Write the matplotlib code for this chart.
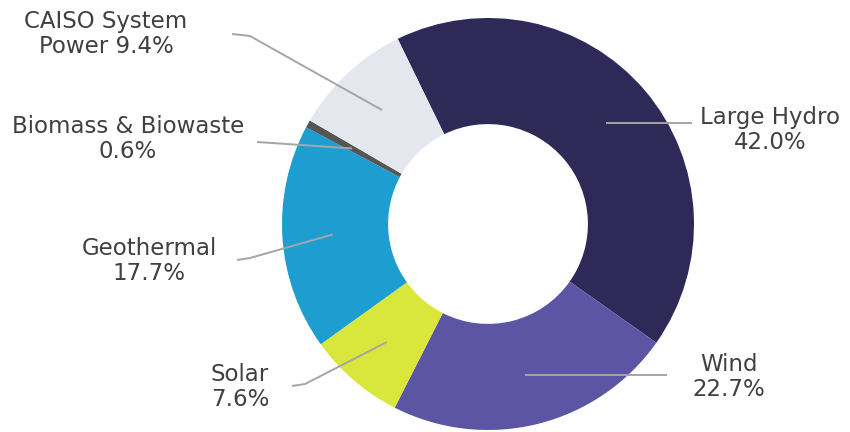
import numpy as np
import matplotlib
matplotlib.use("Agg")
import matplotlib.pyplot as plt

# energy mix (clockwise from upper-left)
labels = ["Large Hydro", "Wind", "Solar", "Geothermal", "Biomass & Biowaste", "CAISO System Power"]
shares = [42.0, 22.7, 7.6, 17.7, 0.6, 9.4]
texts = ["Large Hydro\n42.0%", "Wind\n22.7%", "Solar\n7.6%", "Geothermal\n17.7%",
         "Biomass & Biowaste\n0.6%", "CAISO System\nPower 9.4%"]
colors = ["#2f2957", "#5b55a4", "#d9e63c", "#1e9dd1", "#555555", "#e4e7ed"]

W, H = 850, 432
CX, CY, R = 488, 224, 206   # donut centre / radius in pixels


def to_data(px, py):
    return (px - CX) / R, (CY - py) / R


# label block centre (px) and leader path end points (px), per slice
# a None y means "keep the leader horizontal"
label_pos = [(770, 130), (729, 377), (240, 387), (149, 261), (128, 139), (106, 34)]
leader_tail = [
    [(692, None)],
    [(667, None)],
    [(305, 384), (292, 386)],
    [(250, 258), (237, 260)],
    [(257, 142)],
    [(250, 36), (232, 34)],
]

fig = plt.figure(figsize=(W / 100, H / 100), dpi=100)
ax = fig.add_axes([0, 0, 1, 1])
wedges, _ = ax.pie(shares, colors=colors, startangle=116, counterclock=False,
                   radius=1.0, wedgeprops=dict(width=0.515, edgecolor="none"))
ax.set_aspect("auto")
x0, y0 = to_data(0, H)
x1, y1 = to_data(W, 0)
ax.set_xlim(x0, x1)
ax.set_ylim(y0, y1)
ax.axis("off")

for w, txt, lp, tail in zip(wedges, texts, label_pos, leader_tail):
    mid = np.deg2rad((w.theta1 + w.theta2) / 2)
    sx, sy = 0.755 * np.cos(mid), 0.755 * np.sin(mid)
    pts = [(sx, sy)]
    for px, py in tail:
        dx, dy = to_data(px, py if py is not None else CY)
        pts.append((dx, sy if py is None else dy))
    ax.plot([p[0] for p in pts], [p[1] for p in pts], color="#a5a5a5", lw=1.4,
            solid_capstyle="butt", zorder=3)
    tx, ty = to_data(*lp)
    ax.text(tx, ty, txt, ha="center", va="center", fontsize=16.5, color="#404040",
            family="DejaVu Sans", linespacing=1.1)

fig.savefig("out.png", dpi=100, facecolor="white")
